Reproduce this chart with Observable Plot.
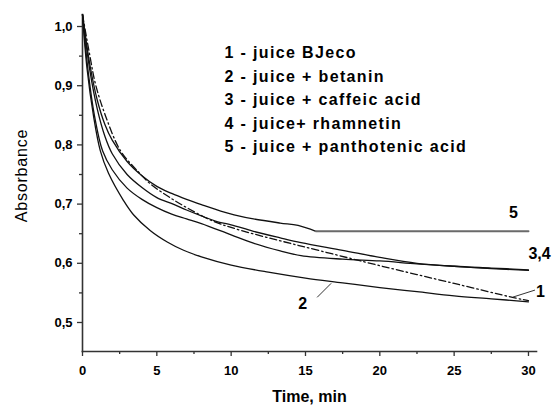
<!DOCTYPE html>
<html><head><meta charset="utf-8">
<script src="https://cdn.jsdelivr.net/npm/d3@7"></script>
<script src="https://cdn.jsdelivr.net/npm/@observablehq/plot@0.6"></script>
<style>
body{margin:0;background:#fff}
svg{display:block}
</style>
</head><body><div id="chart"></div>
<script>
// Curve 1 - juice BJeco (dash-dot)
const t1 = [0, 0.5, 0.87, 1.55, 2.56, 3.7, 4.57, 5.7, 6.8, 8.8, 10.6, 13.3, 16, 20, 25, 29, 30];
const a1 = [1.02, 0.95, 0.903, 0.849, 0.79, 0.756, 0.734, 0.714, 0.697, 0.671, 0.656, 0.638, 0.621, 0.596, 0.566, 0.542, 0.537];
// Curve 2 - juice + betanin
const t2 = [0, 0.3, 0.74, 1.2, 1.75, 2.76, 3.43, 4.57, 5.7, 6.8, 8, 10, 12.5, 15, 17.5, 20, 22.5, 25, 27.5, 30];
const a2 = [1.02, 0.93, 0.849, 0.79, 0.752, 0.706, 0.682, 0.655, 0.636, 0.622, 0.611, 0.597, 0.585, 0.575, 0.567, 0.559, 0.552, 0.545, 0.540, 0.535];
// Curve 3 - juice + caffeic acid
const t3 = [0, 0.5, 1, 1.5, 2, 3, 4, 5, 6.1, 7, 8, 9.1, 10, 11.5, 13.3, 14.7, 17.5, 20, 22.5, 25, 27.5, 30];
const a3 = [1.02, 0.925, 0.86, 0.815, 0.785, 0.75, 0.728, 0.711, 0.70, 0.69, 0.68, 0.67, 0.665, 0.654, 0.643, 0.635, 0.622, 0.61, 0.60, 0.595, 0.592, 0.589];
// Curve 4 - juice + rhamnetin
const t4 = [0, 0.4, 0.8, 1.35, 2, 3, 4, 5, 6, 7, 8, 10, 11.5, 13.3, 14.7, 17.5, 20, 22.5, 25, 27.5, 30];
const a4 = [1.02, 0.92, 0.85, 0.79, 0.758, 0.727, 0.708, 0.694, 0.683, 0.675, 0.667, 0.648, 0.634, 0.621, 0.613, 0.607, 0.604, 0.599, 0.595, 0.591, 0.588];
// Curve 5 - juice + panthotenic acid
const t5 = [0, 0.5, 1, 1.5, 2, 3, 4, 5, 6, 7, 8, 9.3, 10.2, 11.5, 13.3, 14.5, 15.7, 30];
const a5 = [1.02, 0.935, 0.875, 0.835, 0.808, 0.772, 0.748, 0.73, 0.718, 0.708, 0.699, 0.688, 0.682, 0.675, 0.668, 0.664, 0.654, 0.654];

const legendLabels = ["1 - juice BJeco", "2 - juice + betanin", "3 - juice + caffeic acid", "4 - juice+ rhamnetin", "5 - juice + panthotenic acid"];
const curveLabels = {c1: "1", c2: "2", c34: "3,4", c5: "5"};
const xTicks = [0, 5, 10, 15, 20, 25, 30];
const xMinor = [2.5, 7.5, 12.5, 17.5, 22.5, 27.5];
const yTicks = [0.5, 0.6, 0.7, 0.8, 0.9, 1.0];
const yMinor = [0.55, 0.65, 0.75, 0.85, 0.95];
const xTitle = "Time, min";
const yTitle = "Absorbance";

const rows = (t, a) => t.map((x, i) => ({t: x, a: a[i]}));
const s1 = rows(t1, a1), s2 = rows(t2, a2), s3 = rows(t3, a3), s4 = rows(t4, a4), s5 = rows(t5, a5);
const flatStart = 15.7;
const fmt = d => d.toFixed(1).replace(".", ",");
const font = "Liberation Sans, Arial, sans-serif";

function leader(pt, o1, o2) {
  return (index, scales) => {
    const x = scales.x(pt.t), y = scales.y(pt.a);
    return d3.create("svg:line")
      .attr("x1", x + o1[0]).attr("y1", y + o1[1])
      .attr("x2", x + o2[0]).attr("y2", y + o2[1])
      .attr("stroke", "#333").attr("stroke-width", 1)
      .node();
  };
}
const end1 = s1[s1.length - 1];
const lab2 = s2.find(d => d.t === 17.5);

const lineOpts = {x: "t", y: "a", stroke: "#111", strokeWidth: 1.3, curve: "catmull-rom"};

const chart = Plot.plot({
  width: 555, height: 405,
  marginLeft: 82, marginRight: 19, marginTop: 14, marginBottom: 54,
  style: {fontFamily: font, background: "#fff", color: "#000"},
  x: {domain: [0, 30.54]},
  y: {domain: [0.451, 1.0203]},
  marks: [
    Plot.axisX(xTicks, {tickSize: 5, tickPadding: 9, fontSize: 13, fontWeight: "bold", label: null, strokeWidth: 1.3, stroke: "#333"}),
    Plot.axisX(xMinor, {tickSize: 3, text: null, label: null, strokeWidth: 1.3, stroke: "#333"}),
    Plot.axisY(yTicks, {tickSize: 5, tickPadding: 5, tickFormat: fmt, fontSize: 13, fontWeight: "bold", label: null, strokeWidth: 1.3, stroke: "#333"}),
    Plot.axisY(yMinor, {tickSize: 3, text: null, label: null, strokeWidth: 1.3, stroke: "#333"}),
    Plot.frame({anchor: "left", stroke: "#333", strokeWidth: 1.6}),
    Plot.frame({anchor: "bottom", stroke: "#333", strokeWidth: 1.6}),
    Plot.line(s2, lineOpts),
    Plot.line(s3, lineOpts),
    Plot.line(s4, lineOpts),
    Plot.line(s5.filter(d => d.t <= flatStart), lineOpts),
    Plot.line(s5.filter(d => d.t >= flatStart), {x: "t", y: "a", stroke: "#6a6a6a", strokeWidth: 2}),
    Plot.line(s1, {...lineOpts, strokeDasharray: "7,3,1.5,3"}),
    // curve labels
    Plot.text([s5[s5.length - 1]], {x: "t", y: "a", text: () => curveLabels.c5, dx: -15, dy: -18, fontSize: 16, fontWeight: "bold"}),
    Plot.text([s3[s3.length - 1]], {x: "t", y: "a", text: () => curveLabels.c34, dx: 0, dy: -16, textAnchor: "start", fontSize: 16, fontWeight: "bold"}),
    Plot.text([end1], {x: "t", y: "a", text: () => curveLabels.c1, dx: 12, dy: -9, fontSize: 16, fontWeight: "bold"}),
    Plot.text([lab2], {x: "t", y: "a", text: () => curveLabels.c2, dx: -40, dy: 21, fontSize: 16, fontWeight: "bold"}),
    leader(end1, [-15, -3], [7, -10]),
    leader(lab2, [-11, 1], [-25, 15]),
    // legend
    Plot.text([legendLabels.join("\n")], {frameAnchor: "top-left", dx: 142, dy: 83, textAnchor: "start", lineAnchor: "middle", lineHeight: 1.47, fontSize: 16, fontWeight: "bold"}),
    // axis titles
    Plot.text([yTitle], {frameAnchor: "left", dx: -61, dy: -7.5, rotate: -90, textAnchor: "middle", lineAnchor: "middle", fontSize: 16}),
    Plot.text([xTitle], {frameAnchor: "bottom", dy: 45, lineAnchor: "middle", fontSize: 16, fontWeight: "bold"})
  ]
});
// widen legend lettering like the reference
d3.select(chart).selectAll("text")
  .filter(function() { return this.textContent.includes("juice"); })
  .style("letter-spacing", "1.35px");
d3.select(chart).selectAll("text")
  .filter(function() { return this.textContent === yTitle; })
  .style("letter-spacing", "0.8px");
document.getElementById("chart").appendChild(chart);
</script>
</body></html>
